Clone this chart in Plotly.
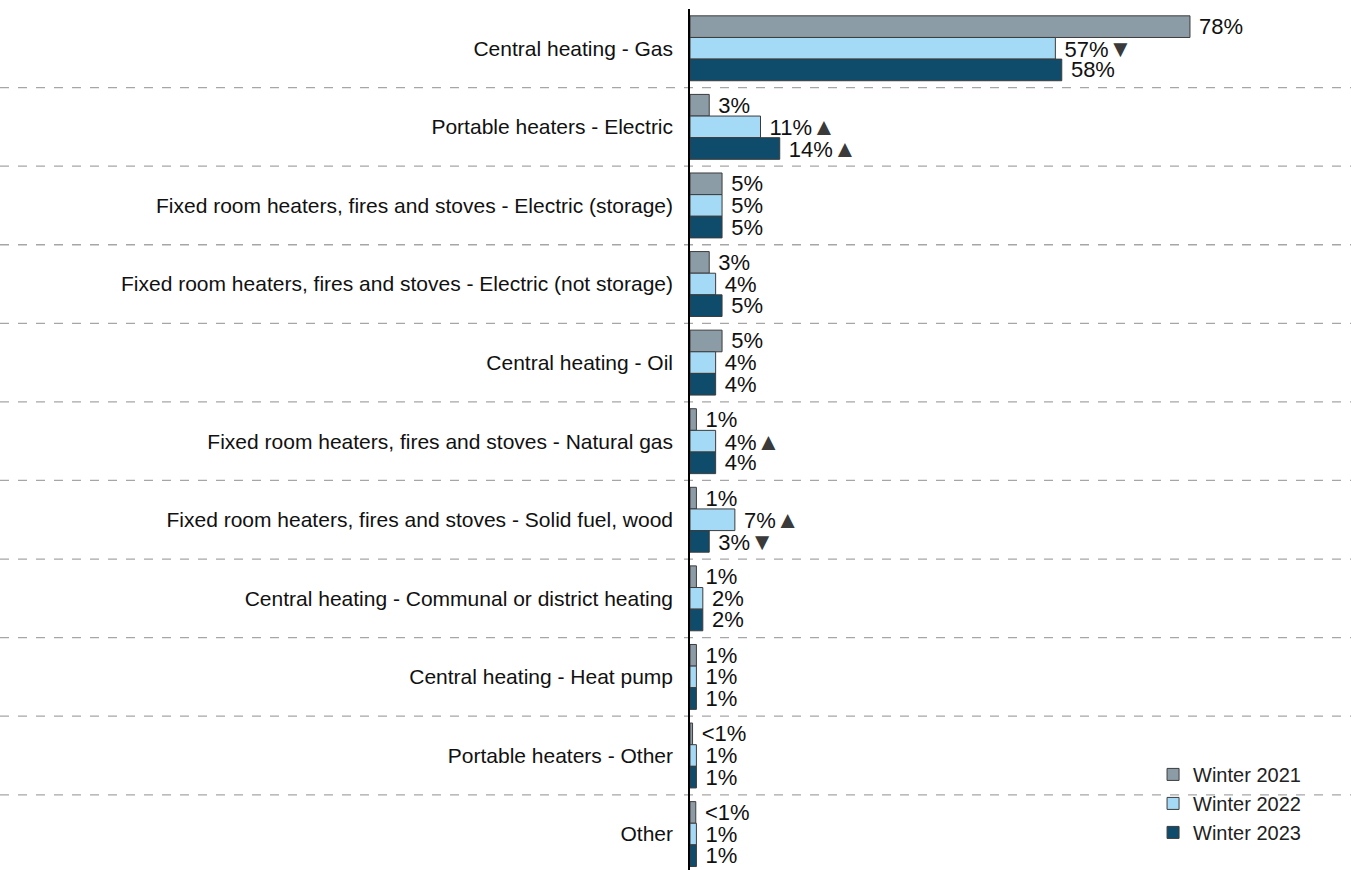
import plotly.graph_objects as go

categories = [
    "Central heating - Gas",
    "Portable heaters - Electric",
    "Fixed room heaters, fires and stoves - Electric (storage)",
    "Fixed room heaters, fires and stoves - Electric (not storage)",
    "Central heating - Oil",
    "Fixed room heaters, fires and stoves - Natural gas",
    "Fixed room heaters, fires and stoves - Solid fuel, wood",
    "Central heating - Communal or district heating",
    "Central heating - Heat pump",
    "Portable heaters - Other",
    "Other",
]

series_names = ["Winter 2021", "Winter 2022", "Winter 2023"]

winter_2021 = [78, 3, 5, 3, 5, 1, 1, 1, 1, 0.4, 0.9]
winter_2022 = [57, 11, 5, 4, 4, 4, 7, 2, 1, 1, 1]
winter_2023 = [58, 14, 5, 5, 4, 4, 3, 2, 1, 1, 1]

# significance markers: "up", "down" or "" per category
change_2022 = ["down", "up", "", "", "", "up", "up", "", "", "", ""]
change_2023 = ["", "up", "", "", "", "", "down", "", "", "", ""]

colors = ["#8C9CA6", "#A4DAF5", "#0F4C6B"]
outline = "#3C3C3C"
arrow_color = "#3A3A3A"


def fmt(v):
    return "<1%" if v < 1 else f"{v:g}%"


def label(v, change):
    text = " " + fmt(v)
    glyph = {"up": "▲", "down": "▼"}.get(change)
    if glyph:
        text += f"<span style='color:{arrow_color};font-size:24px'>{glyph}</span>"
    return text


ypos = list(range(len(categories)))

fig = go.Figure()
for name, vals, col, chg in zip(
    series_names,
    [winter_2021, winter_2022, winter_2023],
    colors,
    [[""] * len(categories), change_2022, change_2023],
):
    fig.add_trace(
        go.Bar(
            name=name,
            y=ypos,
            x=vals,
            orientation="h",
            marker=dict(color=col, line=dict(color=outline, width=1)),
            text=[label(v, c) for v, c in zip(vals, chg)],
            textposition="outside",
            textfont=dict(family="Liberation Sans, Arial, sans-serif", size=22, color="#111111"),
            constraintext="none",
            cliponaxis=False,
            hoverinfo="skip",
        )
    )

# dashed separators between category groups, spanning the full page width
left_margin = 690
page_w = 1351
plot_w = page_w - left_margin
for i in range(len(categories) - 1):
    fig.add_shape(
        type="line",
        xref="paper",
        yref="y",
        x0=-left_margin / plot_w,
        x1=1,
        y0=i + 0.5,
        y1=i + 0.5,
        line=dict(color="#A6A6A6", width=1.3, dash="dash"),
        layer="below",
    )

px_per_cat = 78.67
plot_h = 870 - 8
y_bottom = -0.5 + plot_h / px_per_cat

fig.update_layout(
    width=page_w,
    height=870,
    margin=dict(l=left_margin, r=0, t=9, b=0),
    paper_bgcolor="white",
    plot_bgcolor="white",
    barmode="group",
    bargap=0.174,
    bargroupgap=0,
    font=dict(family="Liberation Sans, Arial, sans-serif", color="#111111"),
    showlegend=True,
    legend=dict(
        x=0.932,
        xanchor="right",
        y=0.021,
        yanchor="bottom",
        traceorder="normal",
        font=dict(size=20, color="#222222"),
        bgcolor="rgba(255,255,255,0)",
        itemwidth=30,
        tracegroupgap=0,
    ),
    xaxis=dict(
        range=[0, plot_w / 6.41],
        visible=False,
        fixedrange=True,
    ),
    yaxis=dict(
        range=[y_bottom, -0.5],
        tickmode="array",
        tickvals=ypos,
        ticktext=categories,
        tickfont=dict(size=21, color="#111111"),
        showline=True,
        linecolor="#000000",
        linewidth=1.5,
        ticks="",
        ticklabelstandoff=11,
        showgrid=False,
        zeroline=False,
        fixedrange=True,
    ),
)

fig.write_html("out.html")
